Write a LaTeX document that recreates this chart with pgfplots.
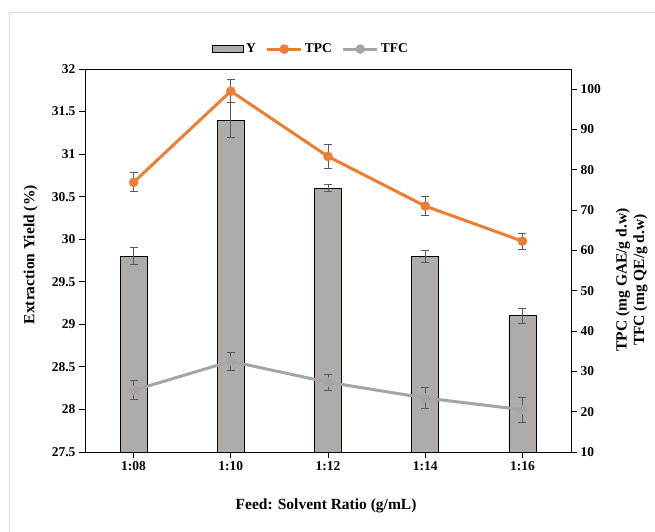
\documentclass[border=0pt]{standalone}
\usepackage{pgfplots}
\pgfplotsset{compat=1.18}
\usepackage{pgfplotstable}
\usepackage{fontspec}
\setmainfont{Liberation Serif}
\definecolor{bargray}{HTML}{AFABAB}
\definecolor{tpc}{HTML}{ED7D31}
\definecolor{tfc}{HTML}{A5A5A5}
\definecolor{errc}{HTML}{595959}
\definecolor{bord}{HTML}{D9D9D9}

\pgfplotstableread{
x  y     ye    tpc   tpce  tfc   tfce
0  29.80 0.10  76.9  2.4   25.3  2.4
1  31.40 0.21  99.5  2.9   32.5  2.2
2  30.60 0.04  83.3  2.9   27.3  2.0
3  29.80 0.07  71.0  2.4   23.4  2.7
4  29.10 0.09  62.3  2.0   20.5  3.1
}\datatable

\pgfplotsset{
  linelegend/.style={legend image code/.code={\draw[##1, mark repeat=2, mark phase=2] plot coordinates {(0pt,0pt) (17pt,0pt) (34pt,0pt)};}},
}

\begin{document}
\begin{tikzpicture}[x=1pt,y=1pt]
\path[use as bounding box] (0,0) rectangle (655,531);
\draw[bord, line width=0.8pt] (9,-5) -- (9,519) -- (660,519);
\pgfplotsset{
  common/.style={
    at={(85pt,79pt)}, anchor=south west,
    scale only axis, width=486pt, height=383pt,
    xmin=-0.5, xmax=4.5,
    tick align=outside,
    major tick length=6pt,
    tick style={black, line width=0.8pt},
    axis line style={black, line width=0.8pt},
    tick label style={font=\fontsize{13.5}{15}\selectfont\bfseries},
    label style={font=\fontsize{15.5}{17.5}\selectfont\bfseries},
  },
  errs/.style={error bars/.cd, y dir=both, y explicit,
    error bar style={errc, line width=1pt},
    error mark options={rotate=90, errc, mark size=4pt, line width=1pt}},
}
\begin{axis}[common,
  ymin=27.5, ymax=32,
  ytick={27.5,28,28.5,29,29.5,30,30.5,31,31.5,32},
  yticklabels={27.5,28,28.5,29,29.5,30,30.5,31,31.5,32},
  xtick={0,1,2,3,4},
  xticklabels={1:08,1:10,1:12,1:14,1:16},
  xtick pos=bottom, ytick pos=left,
  xlabel={Feed: Solvent Ratio (g/mL)},
  ylabel={Extraction Yield (\%)},
  xlabel style={at={(axis description cs:0.496,-0.141)}, anchor=center},
  ylabel style={at={(axis description cs:-0.112,0.515)}, anchor=center},
]
\addplot[ybar, bar width=27pt, fill=bargray, draw=black, line width=0.8pt,
  errs] table[x=x, y=y, y error=ye] {\datatable};
\end{axis}
\begin{axis}[common,
  ymin=10, ymax=105,
  ytick={10,20,...,100},
  yticklabels={10,20,30,40,50,60,70,80,90,100},
  axis y line*=right, axis x line=none,
  ylabel={TPC (mg GAE/g d.w)\\TFC (mg QE/g d.w)},
  ylabel style={at={(axis description cs:1.125,0.449)}, anchor=center, align=center},
  legend style={at={(axis description cs:0.465,1.052)}, anchor=center, draw=none,
    fill=none, legend columns=3, font=\fontsize{13.5}{15}\selectfont\bfseries,
    /tikz/every even column/.append style={column sep=8pt},
    inner sep=1pt},
]
\addlegendimage{legend image code/.code={\draw[fill=bargray, draw=black, line width=0.8pt] (0pt,-3.5pt) rectangle (31pt,3.5pt);}}
\addlegendentry{Y}
\addplot[tpc, line width=3pt, mark=*, mark size=4.5pt, mark options={fill=tpc, draw=tpc, line width=0.5pt},
  linelegend, errs] table[x=x, y=tpc, y error=tpce] {\datatable};
\addlegendentry{TPC}
\addplot[tfc, line width=3pt, mark=*, mark size=4.5pt, mark options={fill=tfc, draw=tfc, line width=0.5pt},
  linelegend, errs] table[x=x, y=tfc, y error=tfce] {\datatable};
\addlegendentry{TFC}
\end{axis}
\end{tikzpicture}
\end{document}
